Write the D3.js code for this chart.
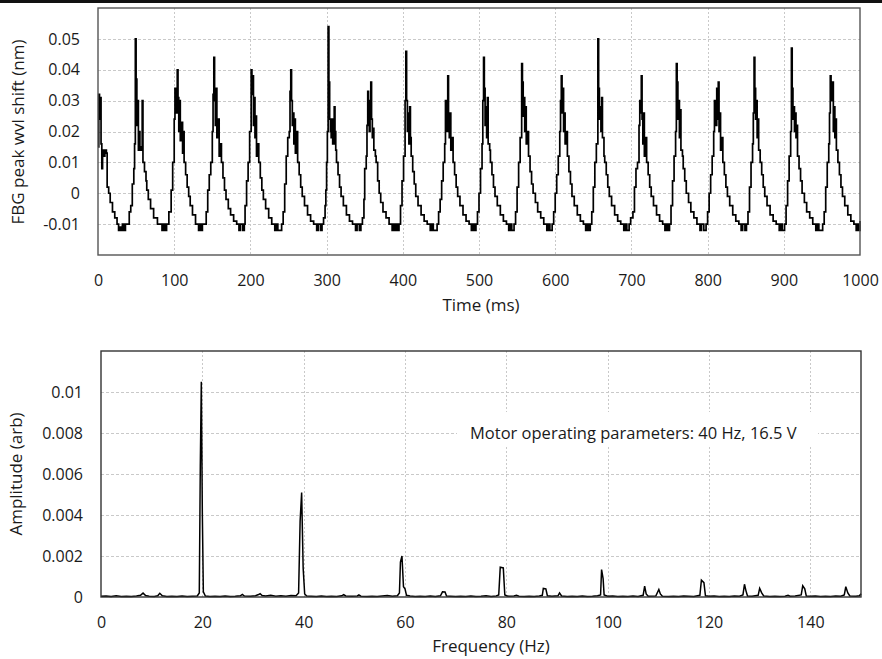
<!DOCTYPE html>
<html>
<head>
<meta charset="utf-8">
<script src="https://cdn.jsdelivr.net/npm/d3@7"></script>
<style>
  body { margin: 0; background: #fff; }
  svg text { font-family: "Open Sans", "Noto Sans", sans-serif; fill: #1a1a1a; }
</style>
</head>
<body>
<div id="chart"></div>
<script>
// ---- data ----
// FBG peak wavelength shift, [time ms, shift nm], sampled as steps
const fbgSignal = [
  [0,0.015],[1,0.032],[2,0.024],[3,0.031],[4,0.016],[5,0.008],[6,0.014],[8,0.012],[9,0.014],[11,0.013],[12,0.002],[14,0],[16,-0.003],[19,-0.006],[22,-0.008],[25,-0.010],[27,-0.012],[29,-0.011],[30,-0.012],[32,-0.010],[34,-0.012],[36,-0.010],[39,-0.010],
  [41,-0.006],[43,-0.004],[45,0.003],[47,0.008],[48,0.016],[49,0.050],[50,0.037],[51,0.022],[52,0.030],[53,0.014],[54,0.020],[55,0.014],[57,0.015],[58,0.030],[59,0.010],[61,0.007],[63,0.004],[64,0.001],[66,-0.002],[69,-0.005],[73,-0.008],[78,-0.010],[84,-0.012],[86,-0.010],[88,-0.012],[90,-0.010],
  [93,-0.006],[96,0.001],[98,0.010],[100,0.024],[101,0.034],[103,0.026],[104,0.040],[105,0.031],[106,0.020],[107,0.030],[108,0.017],[110,0.023],[111,0.013],[112,0.020],[113,0.010],[115,0.006],[117,0.002],[119,-0.001],[121,-0.004],[124,-0.007],[128,-0.010],[132,-0.012],[133,-0.010],[135,-0.012],[137,-0.010],[140,-0.010],
  [142,-0.006],[144,0.001],[146,0.006],[148,0.010],[150,0.020],[151,0.032],[152,0.044],[153,0.030],[154,0.022],[155,0.034],[156,0.018],[158,0.024],[159,0.012],[161,0.016],[162,0.010],[164,0.005],[166,0.001],[168,-0.002],[171,-0.005],[174,-0.007],[178,-0.009],[182,-0.010],[185,-0.012],[187,-0.010],[190,-0.012],[192,-0.010],
  [193,-0.004],[195,0.004],[197,0.010],[199,0.020],[201,0.040],[202,0.032],[203,0.038],[204,0.022],[205,0.031],[206,0.018],[207,0.025],[208,0.012],[210,0.016],[211,0.010],[213,0.005],[215,0.001],[217,-0.002],[220,-0.005],[224,-0.008],[228,-0.010],[232,-0.012],[234,-0.010],[236,-0.012],[238,-0.012],[241,-0.010],
  [243,-0.006],[245,0.003],[247,0.012],[249,0.018],[251,0.020],[252,0.033],[253,0.040],[254,0.030],[255,0.022],[256,0.026],[257,0.016],[258,0.024],[259,0.013],[261,0.020],[262,0.010],[264,0.006],[266,0.002],[268,-0.001],[271,-0.004],[275,-0.007],[279,-0.009],[283,-0.010],[287,-0.012],[289,-0.010],[292,-0.012],[294,-0.010],
  [296,-0.008],[298,-0.004],[299,0.001],[300,0.010],[301,0.020],[302,0.054],[303,0.036],[304,0.024],[305,0.020],[306,0.018],[307,0.024],[308,0.016],[310,0.028],[311,0.020],[312,0.014],[313,0.010],[315,0.006],[317,0.002],[319,-0.001],[322,-0.004],[326,-0.007],[330,-0.009],[334,-0.010],[338,-0.012],[340,-0.010],[343,-0.012],[345,-0.010],
  [347,-0.008],[349,-0.002],[350,0.008],[352,0.012],[353,0.022],[354,0.033],[355,0.028],[356,0.020],[357,0.030],[358,0.036],[359,0.024],[360,0.018],[361,0.021],[362,0.014],[364,0.012],[365,0.010],[367,0.004],[369,0.000],[371,-0.003],[374,-0.006],[378,-0.008],[382,-0.010],[386,-0.012],[387,-0.010],[389,-0.012],[391,-0.010],[393,-0.012],[395,-0.010],
  [397,-0.004],[399,0.004],[401,0.012],[403,0.030],[404,0.046],[405,0.030],[406,0.020],[407,0.026],[408,0.016],[409,0.028],[410,0.018],[411,0.012],[413,0.007],[415,0.003],[417,-0.001],[420,-0.004],[424,-0.007],[428,-0.009],[432,-0.010],[436,-0.012],[438,-0.010],[440,-0.012],[442,-0.012],[445,-0.010],
  [447,-0.006],[449,-0.002],[451,0.004],[453,0.010],[455,0.016],[456,0.030],[457,0.026],[458,0.020],[459,0.038],[460,0.024],[461,0.018],[462,0.026],[463,0.014],[465,0.018],[466,0.010],[468,0.006],[470,0.002],[472,-0.001],[475,-0.004],[479,-0.007],[483,-0.009],[487,-0.010],[490,-0.012],[492,-0.010],[494,-0.012],[496,-0.010],
  [498,-0.006],[500,0.000],[502,0.008],[504,0.016],[505,0.030],[506,0.044],[507,0.034],[508,0.022],[509,0.028],[510,0.018],[511,0.031],[512,0.016],[514,0.014],[515,0.010],[517,0.006],[519,0.002],[521,-0.001],[524,-0.004],[528,-0.007],[532,-0.009],[536,-0.010],[539,-0.012],[541,-0.010],[543,-0.012],[546,-0.010],
  [548,-0.006],[550,0.002],[552,0.010],[554,0.018],[556,0.042],[557,0.036],[558,0.025],[559,0.031],[560,0.020],[561,0.028],[562,0.016],[564,0.020],[565,0.012],[567,0.007],[569,0.003],[571,0.000],[574,-0.003],[577,-0.006],[581,-0.008],[585,-0.010],[589,-0.012],[591,-0.010],[593,-0.012],[596,-0.010],
  [598,-0.006],[600,0.000],[602,0.006],[604,0.012],[606,0.020],[607,0.030],[608,0.038],[609,0.026],[610,0.034],[611,0.020],[612,0.026],[613,0.016],[615,0.020],[616,0.012],[618,0.007],[620,0.003],[622,-0.001],[625,-0.004],[629,-0.007],[633,-0.009],[637,-0.010],[640,-0.012],[642,-0.010],[644,-0.012],[646,-0.010],
  [648,-0.006],[650,0.002],[652,0.010],[654,0.016],[656,0.050],[657,0.034],[658,0.024],[659,0.028],[660,0.020],[661,0.031],[662,0.018],[664,0.012],[665,0.010],[667,0.006],[669,0.002],[671,-0.001],[674,-0.004],[678,-0.007],[682,-0.009],[686,-0.010],[690,-0.012],[692,-0.010],[694,-0.012],[697,-0.010],
  [699,-0.008],[702,-0.006],[704,0.002],[706,0.008],[708,0.010],[710,0.022],[711,0.030],[712,0.026],[713,0.038],[714,0.024],[715,0.016],[716,0.026],[717,0.012],[719,0.018],[720,0.010],[722,0.006],[724,0.002],[726,-0.001],[729,-0.004],[733,-0.007],[737,-0.009],[741,-0.010],[744,-0.012],[746,-0.010],[748,-0.012],[750,-0.010],
  [752,-0.004],[754,0.004],[756,0.012],[758,0.020],[759,0.042],[760,0.036],[761,0.024],[762,0.030],[763,0.018],[764,0.027],[765,0.014],[767,0.012],[768,0.008],[770,0.004],[772,0.000],[775,-0.003],[778,-0.006],[782,-0.008],[786,-0.010],[790,-0.012],[792,-0.010],[795,-0.012],[798,-0.010],
  [800,-0.006],[802,0.000],[804,0.006],[806,0.012],[808,0.020],[809,0.030],[810,0.026],[811,0.022],[812,0.034],[813,0.024],[814,0.036],[815,0.020],[816,0.026],[817,0.014],[819,0.018],[820,0.010],[822,0.006],[824,0.002],[826,-0.001],[829,-0.004],[833,-0.007],[837,-0.009],[841,-0.010],[844,-0.012],[846,-0.010],[849,-0.012],[851,-0.010],
  [853,-0.006],[855,0.002],[857,0.010],[859,0.016],[860,0.026],[861,0.044],[862,0.034],[863,0.024],[864,0.030],[865,0.018],[866,0.024],[867,0.014],[869,0.010],[871,0.006],[873,0.002],[875,-0.001],[878,-0.004],[882,-0.007],[886,-0.009],[890,-0.010],[894,-0.012],[896,-0.010],[898,-0.012],[901,-0.010],
  [903,-0.004],[905,0.004],[907,0.012],[909,0.020],[910,0.047],[911,0.034],[912,0.024],[913,0.028],[914,0.020],[915,0.026],[916,0.018],[917,0.022],[918,0.012],[920,0.008],[922,0.004],[924,0.000],[927,-0.003],[930,-0.006],[934,-0.008],[938,-0.010],[942,-0.012],[944,-0.010],[946,-0.012],[949,-0.012],[951,-0.010],
  [953,-0.006],[955,0.002],[957,0.010],[959,0.016],[960,0.026],[961,0.038],[962,0.030],[963,0.034],[964,0.036],[965,0.020],[966,0.028],[967,0.018],[968,0.024],[969,0.014],[971,0.010],[973,0.006],[975,0.002],[977,-0.001],[980,-0.004],[984,-0.007],[988,-0.009],[992,-0.010],[995,-0.012],[997,-0.010],[998,-0.012],[999,-0.012],[1000,-0.009]
];

// amplitude spectrum, [frequency Hz, amplitude arb]
const spectrum = [
  [0,0.00004],[1,0.00005],[2,0.00003],[3,0.00006],[4,0.00003],[5,0.00004],[6,0.00003],[7,0.00005],[7.8,0.00008],[8.3,0.00019],[8.8,0.00007],[9.5,0.00004],[10.5,0.00003],[11.2,0.00006],[11.6,0.00018],[12.1,0.00006],[13,0.00003],[14,0.00004],[15,0.00003],[16,0.00005],[17,0.00003],[18,0.00004],[19,0.00005],
  [19.4,0.0002],[19.6,0.0064],[19.8,0.0105],[20.0,0.0041],[20.2,0.00025],[20.6,0.00005],[21.5,0.00003],[22.5,0.00004],[23.5,0.00003],[24.5,0.00005],[25.5,0.00003],[26.5,0.00004],[27.5,0.00006],[27.9,0.00013],[28.3,0.00005],[29.5,0.00004],[30.5,0.00006],[31.1,0.00012],[31.4,0.00016],[31.8,0.00007],[32.5,0.00005],[33.5,0.00008],[34.5,0.00004],[35.5,0.00006],[36.5,0.00004],[37.5,0.00007],[38.5,0.00006],
  [39.0,0.0002],[39.3,0.0037],[39.6,0.0051],[39.9,0.0014],[40.2,0.00015],[40.6,0.00005],[41.5,0.00004],[42.5,0.00003],[43.5,0.00005],[44.5,0.00003],[45.5,0.00004],[46.5,0.00003],[47.5,0.00006],[47.9,0.00012],[48.3,0.00005],[49.5,0.00004],[50.6,0.00005],[50.9,0.00010],[51.3,0.00004],[52.5,0.00003],[53.5,0.00004],[54.5,0.00003],[55.5,0.00005],[56.5,0.00007],[57.5,0.00004],[58.5,0.00006],
  [58.9,0.0002],[59.1,0.0017],[59.4,0.0020],[59.7,0.0005],[60.0,0.0004],[60.3,0.00008],[61,0.00005],[62,0.00003],[63,0.00004],[64,0.00003],[65,0.00005],[66,0.00003],[67,0.00006],[67.4,0.00025],[67.9,0.00024],[68.2,0.00005],[69,0.00004],[70,0.00003],[71,0.00004],[72,0.00003],[73,0.00005],[74,0.00003],[75,0.00004],[76,0.00006],[77,0.00003],[78,0.00005],
  [78.5,0.0001],[78.8,0.00145],[79.4,0.00142],[79.7,0.0001],[80.3,0.00004],[81.5,0.00005],[82,0.00008],[82.5,0.00004],[83.5,0.00003],[84.5,0.00004],[85.5,0.00003],[86.5,0.00005],[87.1,0.00008],[87.3,0.00042],[87.8,0.0004],[88.1,0.00006],[89,0.00004],[90.2,0.00006],[90.5,0.0002],[90.9,0.00005],[92,0.00003],[93,0.00004],[94,0.00003],[95,0.00005],[96,0.00003],[97,0.00004],[98,0.00006],
  [98.6,0.0001],[98.8,0.00134],[99.1,0.0009],[99.3,0.0001],[100,0.00004],[101,0.00005],[102,0.00003],[103,0.00004],[104,0.00003],[105,0.00005],[106,0.00003],[107,0.00008],[107.3,0.00053],[107.6,0.00015],[108,0.00004],[109.5,0.00005],[110.1,0.00037],[110.4,0.00015],[110.8,0.00004],[112,0.00003],[113,0.00004],[114,0.00003],[115,0.00005],[116,0.00004],[117,0.00003],
  [118.2,0.00008],[118.5,0.00082],[119.0,0.0007],[119.3,0.00006],[120,0.00004],[121,0.00005],[122,0.00003],[123,0.00004],[124,0.00003],[125,0.00005],[126,0.00004],[126.7,0.0001],[127.0,0.00062],[127.3,0.0003],[127.6,0.00005],[128.5,0.00004],[129.7,0.00008],[130.0,0.00042],[130.4,0.0002],[130.8,0.00005],[132,0.00003],[133,0.00004],[134,0.00003],[135,0.00004],[135.6,0.00008],[136,0.00004],[137,0.00005],
  [138.2,0.0001],[138.5,0.00055],[138.9,0.0004],[139.2,0.00005],[140,0.00004],[141,0.00005],[142,0.00003],[143,0.00004],[144,0.00003],[145,0.00005],[146,0.00004],[146.7,0.0001],[147.0,0.0005],[147.4,0.0002],[147.8,0.00005],[149,0.00004],[149.7,0.00006],[150,0.00016]
];

const timeTicks = [0,100,200,300,400,500,600,700,800,900,1000];
const shiftTicks = [-0.01,0,0.01,0.02,0.03,0.04,0.05];
const freqTicks = [0,20,40,60,80,100,120,140];
const ampTicks = [0,0.002,0.004,0.006,0.008,0.01];

const note = "Motor operating parameters: 40 Hz, 16.5 V";

// ---- setup ----
const W = 882, H = 659;
const svg = d3.select("#chart").append("svg")
  .attr("width", W).attr("height", H);

svg.append("rect").attr("x", 0).attr("y", 0).attr("width", W).attr("height", H).attr("fill", "#fff");
// dark strip along the top edge of the scan
svg.append("rect").attr("x", 0).attr("y", 0).attr("width", W).attr("height", 3).attr("fill", "#111");

const fmt = d => String(+d.toFixed(3));
const gridColor = "#c9c9c9";

function panel(opts) {
  const {x, y, xTicks, yTicks, xGrid, yGrid, frame} = opts;
  const [x0, x1] = x.range();
  const [y0, y1] = y.range();   // y0 bottom, y1 top
  const g = svg.append("g");

  // gridlines
  g.append("g").selectAll("line").data(yGrid).join("line")
    .attr("x1", x0).attr("x2", x1)
    .attr("y1", d => Math.round(y(d)) + 0.5).attr("y2", d => Math.round(y(d)) + 0.5)
    .attr("stroke", gridColor).attr("stroke-dasharray", "3,2");
  g.append("g").selectAll("line").data(xGrid).join("line")
    .attr("y1", y1).attr("y2", y0)
    .attr("x1", d => Math.round(x(d)) + 0.5).attr("x2", d => Math.round(x(d)) + 0.5)
    .attr("stroke", gridColor).attr("stroke-dasharray", "2,2");

  // axes (labels only)
  const ax = g.append("g").attr("transform", `translate(0,${y0})`)
    .call(d3.axisBottom(x).tickValues(xTicks).tickSize(0).tickPadding(opts.xPad).tickFormat(fmt));
  const ay = g.append("g").attr("transform", `translate(${x0},0)`)
    .call(d3.axisLeft(y).tickValues(yTicks).tickSize(0).tickPadding(opts.yPad).tickFormat(fmt));
  [ax, ay].forEach(a => {
    a.select(".domain").remove();
    a.selectAll("text").attr("font-family", null).attr("font-size", 16).attr("fill", "#1a1a1a");
  });

  return {g, frame: () => g.append("rect")
    .attr("x", x0).attr("y", y1).attr("width", x1 - x0).attr("height", y0 - y1)
    .attr("fill", "none").attr("stroke", frame).attr("stroke-width", 1.4)};
}

// =========================
// TOP: time signal
// =========================
const xT = d3.scaleLinear().domain([0, 1000]).range([98, 860]);
const yT = d3.scaleLinear().domain([-0.02, 0.06]).range([255, 8]);

const timePanel = panel({
  x: xT, y: yT, xTicks: timeTicks, yTicks: shiftTicks,
  xGrid: timeTicks.slice(1, -1), yGrid: shiftTicks,
  xPad: 20, yPad: 18, frame: "#555"
});

timePanel.g.append("path")
  .datum(fbgSignal)
  .attr("fill", "none")
  .attr("stroke", "#000")
  .attr("stroke-width", 1.7)
  .attr("stroke-linejoin", "miter")
  .attr("d", d3.line().curve(d3.curveStepAfter).x(d => xT(d[0])).y(d => yT(d[1])));
timePanel.frame();

timePanel.g.append("text")
  .attr("x", 481).attr("y", 311)
  .attr("text-anchor", "middle").attr("font-size", 17)
  .text("Time (ms)");
timePanel.g.append("text")
  .attr("transform", "translate(24,132) rotate(-90)")
  .attr("text-anchor", "middle").attr("font-size", 17)
  .text("FBG peak wvl shift (nm)");

// =========================
// BOTTOM: spectrum
// =========================
const xB = d3.scaleLinear().domain([0, 150]).range([101, 861]);
const yB = d3.scaleLinear().domain([0, 0.012]).range([597, 351]);

const specPanel = panel({
  x: xB, y: yB, xTicks: freqTicks, yTicks: ampTicks,
  xGrid: freqTicks.slice(1), yGrid: ampTicks.slice(1),
  xPad: 20, yPad: 18, frame: "#333"
});

// white box behind the note
specPanel.g.append("rect")
  .attr("x", 457).attr("y", 412).attr("width", 361).attr("height", 35)
  .attr("fill", "#fff");
specPanel.g.append("text")
  .attr("x", 470).attr("y", 439)
  .attr("font-size", 16.5)
  .text(note);

specPanel.g.append("path")
  .datum(spectrum)
  .attr("fill", "none")
  .attr("stroke", "#000")
  .attr("stroke-width", 1.5)
  .attr("d", d3.line().x(d => xB(d[0])).y(d => yB(d[1])));
specPanel.frame();

specPanel.g.append("text")
  .attr("x", 491).attr("y", 652)
  .attr("text-anchor", "middle").attr("font-size", 17)
  .text("Frequency (Hz)");
specPanel.g.append("text")
  .attr("transform", "translate(22,474) rotate(-90)")
  .attr("text-anchor", "middle").attr("font-size", 17)
  .text("Amplitude (arb)");
</script>
</body>
</html>
